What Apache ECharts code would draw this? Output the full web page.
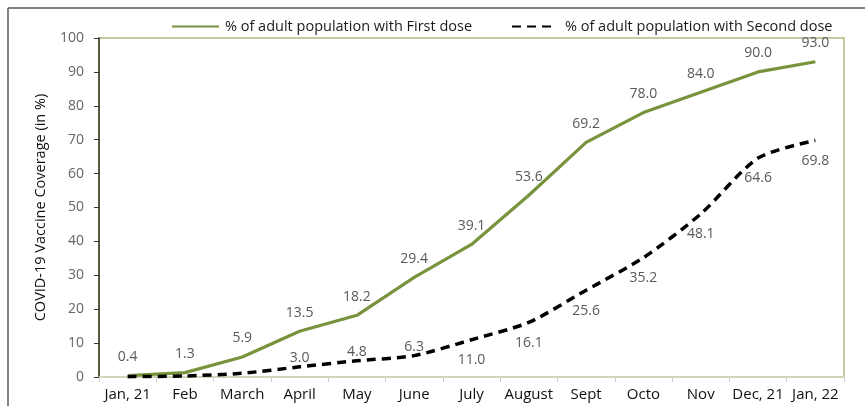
<!DOCTYPE html>
<html>
<head>
<meta charset="utf-8">
<script src="https://cdn.jsdelivr.net/npm/echarts@6/dist/echarts.min.js"></script>
<style>
html,body{margin:0;padding:0;background:#fff;}
#chart{width:865px;height:406px;}
</style>
</head>
<body>
<div id="chart"></div>
<script>
var categories = ['Jan, 21','Feb','March','April','May','June','July','August','Sept','Octo','Nov','Dec, 21','Jan, 22'];
var firstDose = [0.4, 1.3, 5.9, 13.5, 18.2, 29.4, 39.1, 53.6, 69.2, 78.0, 84.0, 90.0, 93.0];
var secondDose = [0.1, 0.3, 1.1, 3.0, 4.8, 6.3, 11.0, 16.1, 25.6, 35.2, 48.1, 64.6, 69.8];
var yTicks = [0, 10, 20, 30, 40, 50, 60, 70, 80, 90, 100];
var firstName = '% of adult population with First dose';
var secondName = '% of adult population with Second dose';

var FONT = 'Open Sans';
var chart = echarts.init(document.getElementById('chart'));

var secondData = secondDose.map(function (v, i) {
  var lbl;
  if (i < 3) lbl = { show: false };
  else if (i < 6) lbl = { show: true, position: 'top', distance: 1 };
  else lbl = { show: true, position: 'bottom', distance: 13 };
  return { value: v, label: lbl };
});

chart.setOption({
  animation: false,
  textStyle: { fontFamily: FONT },
  grid: { left: 99, right: 21, top: 38, bottom: 29, show: true, borderColor: '#a9bd82', borderWidth: 1.5 },
  legend: [
    { data: [firstName], left: 166, top: 14, itemWidth: 47, itemHeight: 14, itemGap: 6,
      textStyle: { fontFamily: FONT, fontSize: 14.5, color: '#1a1a1a', padding: [0,0,0,1] } },
    { data: [secondName], left: 506, top: 14, itemWidth: 44, itemHeight: 14, itemGap: 6,
      textStyle: { fontFamily: FONT, fontSize: 14.5, color: '#1a1a1a', padding: [0,0,0,4] } }
  ],
  graphic: [
    { type: 'line', shape: { x1: 8, y1: 8, x2: 865, y2: 8 }, style: { stroke: '#5a5a5a', lineWidth: 1.5 }, silent: true },
    { type: 'line', shape: { x1: 8, y1: 8, x2: 8, y2: 406 }, style: { stroke: '#5a5a5a', lineWidth: 1.5 }, silent: true }
  ],
  xAxis: {
    type: 'category',
    data: categories,
    boundaryGap: true,
    axisLine: { lineStyle: { color: '#d6dbc6', width: 1.5 } },
    axisTick: { show: true, alignWithLabel: false, length: 5, lineStyle: { color: '#d0d0d0' } },
    axisLabel: { color: '#111', fontSize: 15, fontFamily: FONT, margin: 10, interval: 0 },
    splitLine: { show: false }
  },
  yAxis: {
    type: 'value',
    min: 0, max: 100, interval: 10,
    name: 'COVID-19 Vaccine Coverage (in %)',
    nameLocation: 'middle',
    nameGap: 51,
    nameRotate: 90,
    nameTextStyle: { color: '#111', fontSize: 14.5, fontFamily: FONT },
    axisLine: { show: true, lineStyle: { color: '#333322', width: 1.5 } },
    axisTick: { show: true, length: 5, lineStyle: { color: '#333' } },
    axisLabel: { color: '#666', fontSize: 14, fontFamily: FONT, margin: 15,
      formatter: function (v) { return yTicks.indexOf(v) >= 0 ? String(v) : ''; } },
    splitLine: { show: false }
  },
  series: [
    {
      name: firstName,
      type: 'line',
      data: firstDose,
      symbol: 'circle',
      symbolSize: 1,
      showSymbol: true,
      lineStyle: { color: '#77933c', width: 3.2 },
      itemStyle: { color: 'transparent', borderWidth: 0 },
      label: { show: true, position: 'top', distance: 11, color: '#595959', fontSize: 14, fontFamily: FONT,
        formatter: function (p) { return p.value.toFixed(1); } },
      z: 3
    },
    {
      name: secondName,
      type: 'line',
      data: secondData,
      symbol: 'circle',
      symbolSize: 1,
      showSymbol: true,
      smooth: 0.25,
      lineStyle: { color: '#000', width: 3.5, type: [9, 6] },
      itemStyle: { color: 'transparent', borderWidth: 0 },
      label: { color: '#595959', fontSize: 14, fontFamily: FONT,
        formatter: function (p) { return p.value.toFixed(1); } },
      z: 4
    }
  ]
});
</script>
</body>
</html>
